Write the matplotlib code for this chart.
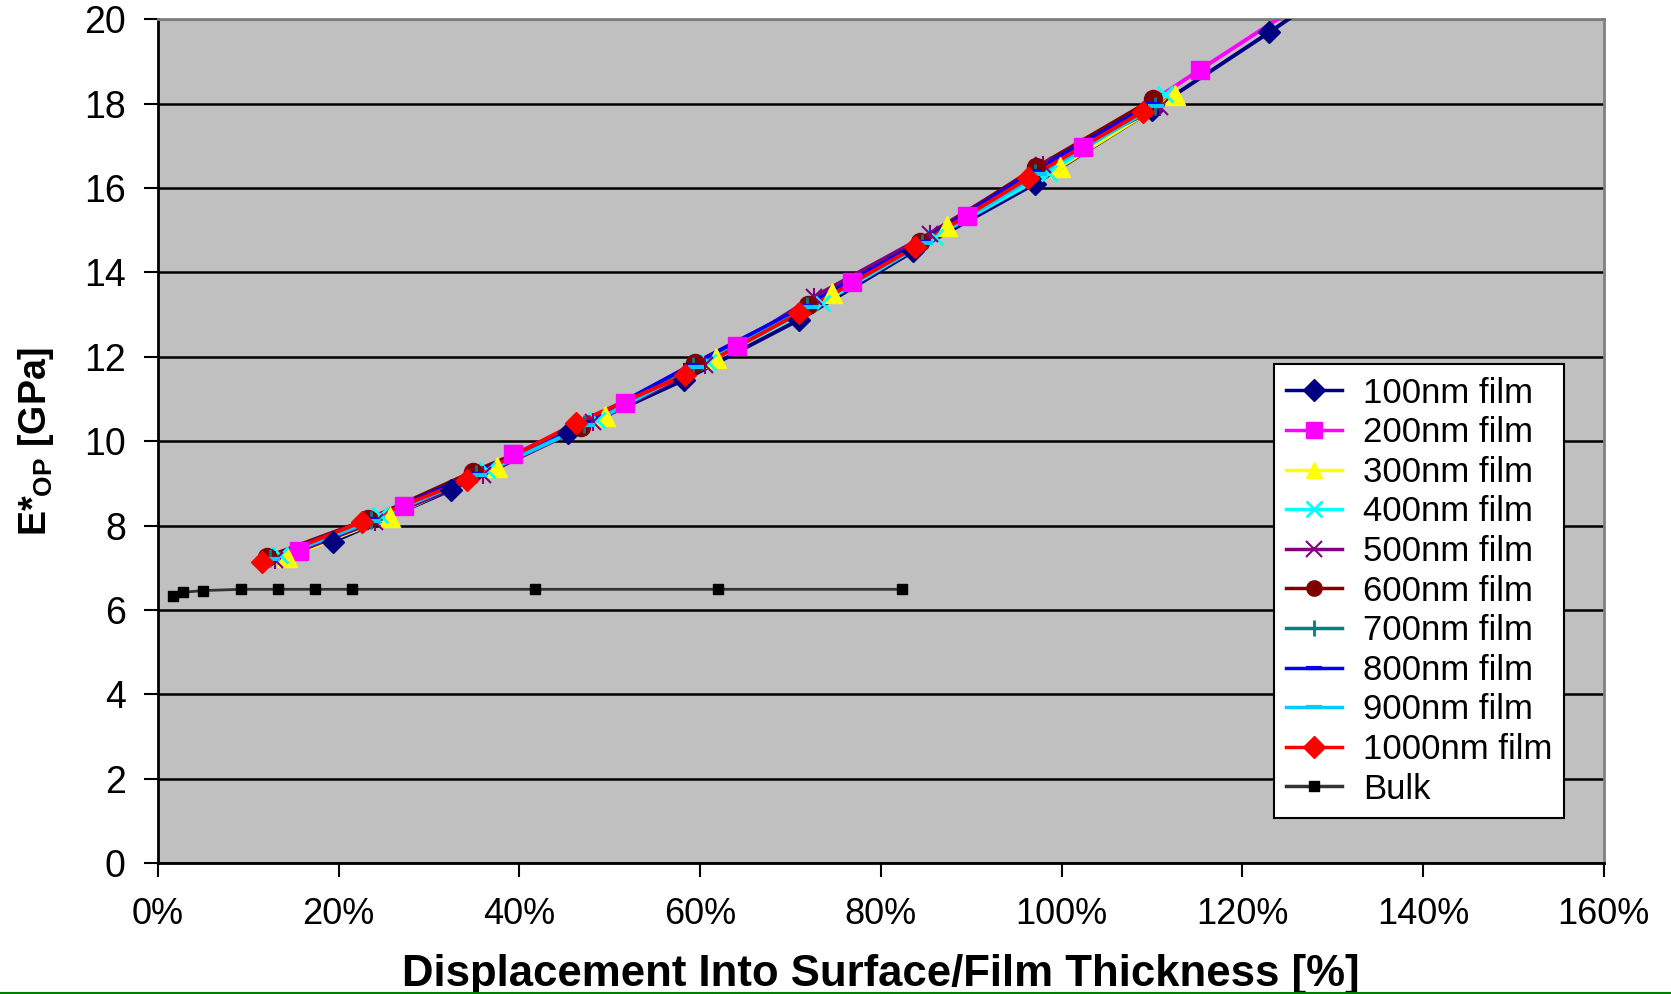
import matplotlib
matplotlib.use('Agg')
import matplotlib.pyplot as plt
from matplotlib.lines import Line2D
from matplotlib.ticker import FuncFormatter, MultipleLocator

plt.rcParams['font.family'] = ['Liberation Sans', 'DejaVu Sans']
plt.rcParams['mathtext.fontset'] = 'custom'
plt.rcParams['mathtext.bf'] = 'Liberation Sans:bold'
plt.rcParams['mathtext.rm'] = 'Liberation Sans'

# depth / film thickness [%] and reduced modulus [GPa] per film
x_100 = [19.4, 32.4, 45.4, 58.2, 70.9, 83.6, 97.05, 110.0, 123.0, 136.0]
y_100 = [7.62, 8.84, 10.19, 11.45, 12.87, 14.5, 16.1, 17.85, 19.69, 21.6]
x_200 = [15.6, 27.2, 39.35, 51.7, 64.05, 76.8, 89.5, 102.4, 115.3, 128.2]
y_200 = [7.40, 8.46, 9.69, 10.9, 12.26, 13.78, 15.33, 16.98, 18.8, 20.6]
x_300 = [14.3, 25.7, 37.5, 49.5, 61.8, 74.6, 87.3, 99.85, 112.6]
y_300 = [7.25, 8.21, 9.40, 10.6, 11.96, 13.5, 15.1, 16.5, 18.2]
x_400 = [13.5, 24.6, 36.4, 48.6, 60.9, 73.5, 86.0, 98.6, 111.5]
y_400 = [7.30, 8.25, 9.32, 10.5, 11.88, 13.27, 14.85, 16.35, 18.22]
x_500 = [13.0, 24.0, 36.0, 48.2, 60.5, 72.6, 85.4, 98.0, 110.9]
y_500 = [7.18, 8.09, 9.2, 10.45, 11.8, 13.42, 14.92, 16.55, 17.93]
x_600 = [12.1, 23.3, 34.9, 46.8, 59.4, 72.0, 84.3, 97.2, 110.1]
y_600 = [7.26, 8.15, 9.28, 10.33, 11.85, 13.23, 14.72, 16.49, 18.1]
x_700 = [12.4, 23.6, 35.2, 47.2, 59.2, 71.8, 84.6, 97.05, 110.3]
y_700 = [7.24, 8.14, 9.22, 10.4, 11.77, 13.2, 14.7, 16.35, 17.95]
x_800 = [12.2, 23.4, 35.0, 47.0, 59.0, 71.6, 84.4, 96.9, 110.0]
y_800 = [7.22, 8.15, 9.22, 10.42, 11.8, 13.2, 14.72, 16.4, 18.0]
x_900 = [12.6, 23.8, 35.5, 47.5, 59.6, 72.2, 84.9, 97.5, 110.5]
y_900 = [7.2, 8.12, 9.2, 10.38, 11.75, 13.18, 14.7, 16.32, 17.95]
x_1000 = [11.5, 22.6, 34.2, 46.3, 58.3, 70.95, 83.8, 96.3, 109.0]
y_1000 = [7.14, 8.09, 9.08, 10.43, 11.57, 13.03, 14.6, 16.23, 17.81]
x_bulk = [1.7, 2.8, 5.05, 9.2, 13.3, 17.4, 21.5, 41.7, 62.0, 82.3]
y_bulk = [6.34, 6.42, 6.46, 6.49, 6.49, 6.49, 6.49, 6.49, 6.49, 6.49]

labels = ['100nm film', '200nm film', '300nm film', '400nm film', '500nm film',
          '600nm film', '700nm film', '800nm film', '900nm film', '1000nm film', 'Bulk']
xs = [x_100, x_200, x_300, x_400, x_500, x_600, x_700, x_800, x_900, x_1000, x_bulk]
ys = [y_100, y_200, y_300, y_400, y_500, y_600, y_700, y_800, y_900, y_1000, y_bulk]

# excel-like series styles: (line color, marker, marker size, marker edge width)
styles = [
    ('#000080', 'D', 11, 1),
    ('#FF00FF', 's', 13, 1),
    ('#FFFF00', '^', 15, 1),
    ('#00FFFF', 'x', 12, 2),
    ('#800080', '*', 12, 1.5),
    ('#800000', 'o', 13, 1),
    ('#008080', '+', 13, 2),
    ('#0000FF', '_', 12, 3),
    ('#00CCFF', '_', 12, 3),
    ('#FF0000', 'D', 11, 1),
    ('#333333', 's', 7, 1),
]

fig = plt.figure(figsize=(16.71, 9.94), dpi=100)
ax = fig.add_axes([0.0944, 0.1316, 0.8654, 0.8491])
ax.set_facecolor('#C0C0C0')

# lines first, then markers on top of all lines
for lab, x, y, (c, m, ms, mew) in zip(labels, xs, ys, styles):
    lw = 2.0 if lab == 'Bulk' else 2.8
    ax.plot(x, y, color=c, lw=lw, zorder=3)

for lab, x, y, (c, m, ms, mew) in zip(labels, xs, ys, styles):
    mfc = 'black' if lab == 'Bulk' else c
    if m == '*':
        ax.plot(x, y, ls='none', marker='x', ms=ms, mew=mew, color=c, zorder=4)
        ax.plot(x, y, ls='none', marker='|', ms=ms + 1, mew=mew, color=c, zorder=4)
    else:
        ax.plot(x, y, ls='none', marker=m, ms=ms, mfc=mfc, mec=mfc, mew=mew, zorder=4)

ax.set_xlim(0, 160)
ax.set_ylim(0, 20)
ax.xaxis.set_major_locator(MultipleLocator(20))
ax.yaxis.set_major_locator(MultipleLocator(2))
ax.xaxis.set_major_formatter(FuncFormatter(lambda v, p: f'{v:.0f}%'))
ax.yaxis.grid(True, color='black', lw=1.8, zorder=1)
ax.set_axisbelow(True)

for s in ['top', 'right']:
    ax.spines[s].set_color('#808080')
    ax.spines[s].set_linewidth(2)
for s in ['left', 'bottom']:
    ax.spines[s].set_color('black')
    ax.spines[s].set_linewidth(2)

ax.tick_params(axis='both', direction='out', length=10, width=1.5, color='black')
ax.tick_params(axis='y', labelsize=27, pad=13)
ax.tick_params(axis='x', labelsize=26, pad=14)
for t in ax.get_xticklabels():
    t.set_fontfamily(['Liberation Sans Narrow', 'Liberation Sans'])

ax.set_xlabel('Displacement Into Surface/Film Thickness [%]', fontsize=31.5,
              fontweight='bold', family=['Liberation Sans Narrow', 'Liberation Sans'],
              labelpad=16)
ax.set_ylabel(r'E*$_{\mathbf{OP}}$ [GPa]', fontsize=27, fontweight='bold', labelpad=20)

# legend
handles = []
for lab, (c, m, ms, mew) in zip(labels, styles):
    mfc = 'black' if lab == 'Bulk' else c
    mk = 'x' if m == '*' else m
    handles.append(Line2D([], [], color=c, lw=2.5, marker=mk,
                          ms=min(ms, 11), mfc=mfc, mec=mfc, mew=mew))
leg = ax.legend(handles, labels, loc='upper left', bbox_to_anchor=(0.772, 0.591),
                fontsize=25, frameon=True, fancybox=False, framealpha=1,
                edgecolor='black', handlelength=1.6, labelspacing=0.19,
                borderpad=0.35, borderaxespad=0, handletextpad=0.6)
leg.get_frame().set_linewidth(1.5)

# green rule along the bottom edge
fig.add_artist(Line2D([0, 1], [0.0015, 0.0015], color='#008000', lw=1.5,
                      transform=fig.transFigure))

fig.savefig('out.png', dpi=100, facecolor='white')
